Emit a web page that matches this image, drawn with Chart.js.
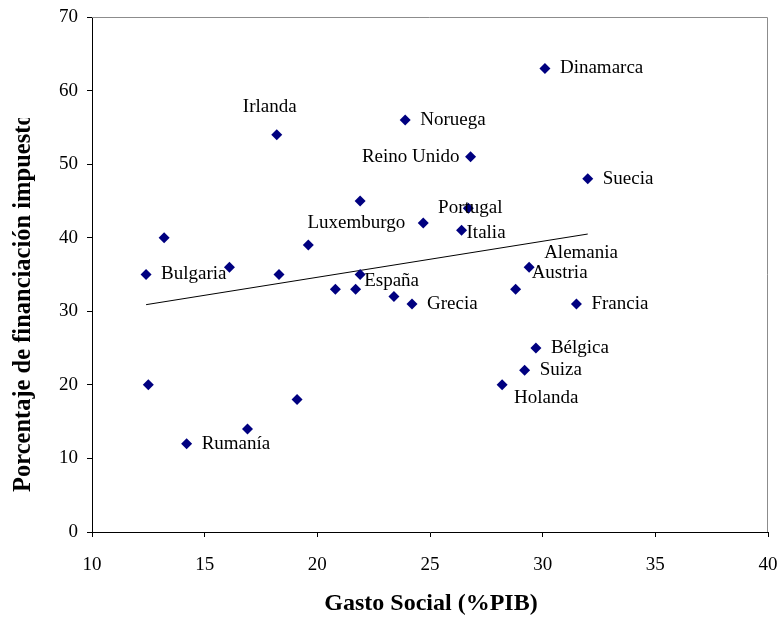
<!DOCTYPE html>
<html>
<head>
<meta charset="utf-8">
<script src="https://cdn.jsdelivr.net/npm/chart.js@4"></script>
<style>
  html, body { margin: 0; padding: 0; background: #fff; }
  #wrap { width: 779px; height: 617px; }
</style>
</head>
<body>
<div id="wrap"><canvas id="myChart" width="779" height="617"></canvas></div>
<script>
// data
const paises = ['Dinamarca', 'Noruega', 'Irlanda', 'Reino Unido', 'Suecia', '', 'Portugal', 'Luxemburgo', 'Italia', '',
    '', '', 'Alemania', 'Austria', 'Bulgaria', '', 'España', '', '', '',
    'Grecia', 'Francia', 'Bélgica', 'Suiza', '', 'Holanda', '', '', 'Rumanía']
const gasto = [30.1, 23.9, 18.2, 26.8, 32.0, 21.9, 26.7, 24.7, 26.4, 13.2,
    19.6, 16.1, 29.4, 28.8, 12.4, 18.3, 21.9, 20.8, 21.7, 23.4,
    24.2, 31.5, 29.7, 29.2, 12.5, 28.2, 19.1, 16.9, 14.2]
const financ = [63, 56, 54, 51, 48, 45, 44, 42, 41, 40,
    39, 36, 36, 33, 35, 35, 35, 33, 33, 32,
    31, 31, 25, 22, 20, 20, 18, 14, 12]
const trendX = [12.4, 32.0]
const trendY = [30.9, 40.5]
const xTicks = [10, 15, 20, 25, 30, 35, 40]
const yTicks = [0, 10, 20, 30, 40, 50, 60, 70]

const serif = "'Liberation Serif', 'Times New Roman', serif"

// where each label sits next to its point (default: right of it)
const labelPos = {
    'Irlanda': { dx: -7, dy: -28, align: 'center' },
    'Reino Unido': { dx: -11, dy: 0, align: 'right' },
    'Portugal': { dx: 2, dy: 0, align: 'center' },
    'Luxemburgo': { dx: -18, dy: 0, align: 'right' },
    'Italia': { dx: 5, dy: 3, align: 'left' },
    'Alemania': { dx: 15, dy: -14, align: 'left' },
    'Austria': { dx: 16, dy: -16, align: 'left' },
    'España': { dx: 4, dy: 7, align: 'left' },
    'Holanda': { dx: 12, dy: 13, align: 'left' }
}

const extras = {
    id: 'extras',
    afterDatasetsDraw(chart) {
        const c = chart.ctx
        const xs = chart.scales.x, ys = chart.scales.y
        const a = chart.chartArea
        c.save()
        // grey frame top / right
        c.strokeStyle = '#8c8c8c'
        c.lineWidth = 1
        c.beginPath()
        c.moveTo(a.left, a.top + 0.5)
        c.lineTo(a.right - 0.5, a.top + 0.5)
        c.lineTo(a.right - 0.5, a.bottom)
        c.stroke()
        // point labels
        c.fillStyle = '#000'
        c.font = '19px ' + serif
        c.textBaseline = 'middle'
        for (i = 0; i < paises.length; i++) {
            if (!paises[i]) continue
            const p = labelPos[paises[i]] || { dx: 15, dy: 0, align: 'left' }
            c.textAlign = p.align
            c.fillText(paises[i], xs.getPixelForValue(gasto[i]) + p.dx, ys.getPixelForValue(financ[i]) + p.dy)
        }
        // axis titles
        c.font = 'bold 24px ' + serif
        c.textAlign = 'center'
        c.fillText('Gasto Social (%PIB)', 431, 604)
        c.font = 'bold 24.5px ' + serif
        c.beginPath()
        c.rect(0, 118, 60, 500)
        c.clip()
        c.translate(24, 492)
        c.rotate(-Math.PI / 2)
        c.textAlign = 'left'
        c.fillText('Porcentaje de financiación impuestos', 0, 0)
        c.restore()
    }
}

const ctx = document.getElementById('myChart').getContext('2d')
const myChart = new Chart(ctx, {
    type: 'scatter',
    data: {
        datasets: [{
            label: 'paises',
            data: gasto.map((g, i) => ({ x: g, y: financ[i] })),
            pointStyle: 'rectRot',
            pointRadius: 5.5,
            backgroundColor: '#000080',
            borderColor: '#000080',
            borderWidth: 0,
            order: 1
        }, {
            type: 'line',
            label: 'tendencia',
            data: trendX.map((t, i) => ({ x: t, y: trendY[i] })),
            borderColor: '#000',
            borderWidth: 1,
            pointRadius: 0,
            fill: false,
            order: 2
        }]
    },
    options: {
        responsive: false,
        animation: false,
        layout: { padding: { top: 17, right: 11, left: 0, bottom: 0 } },
        plugins: { legend: { display: false }, tooltip: { enabled: false } },
        scales: {
            x: {
                type: 'linear', min: 10, max: 40,
                afterFit: s => { s.height = 85; s.paddingLeft = 0; s.paddingRight = 0 },
                afterBuildTicks: s => { s.ticks = xTicks.map(v => ({ value: v })) },
                grid: { drawOnChartArea: false, drawTicks: true, tickLength: 5, color: '#000' },
                border: { color: '#000' },
                ticks: { color: '#000', font: { family: serif, size: 19 }, padding: 17, maxRotation: 0 }
            },
            y: {
                min: 0, max: 70,
                afterFit: s => { s.width = 92; s.paddingTop = 0; s.paddingBottom = 0 },
                afterBuildTicks: s => { s.ticks = yTicks.map(v => ({ value: v })) },
                grid: { drawOnChartArea: false, drawTicks: true, tickLength: 5, color: '#000' },
                border: { color: '#000' },
                ticks: { color: '#000', font: { family: serif, size: 19 }, padding: 9 }
            }
        }
    },
    plugins: [extras]
})
</script>
</body>
</html>
